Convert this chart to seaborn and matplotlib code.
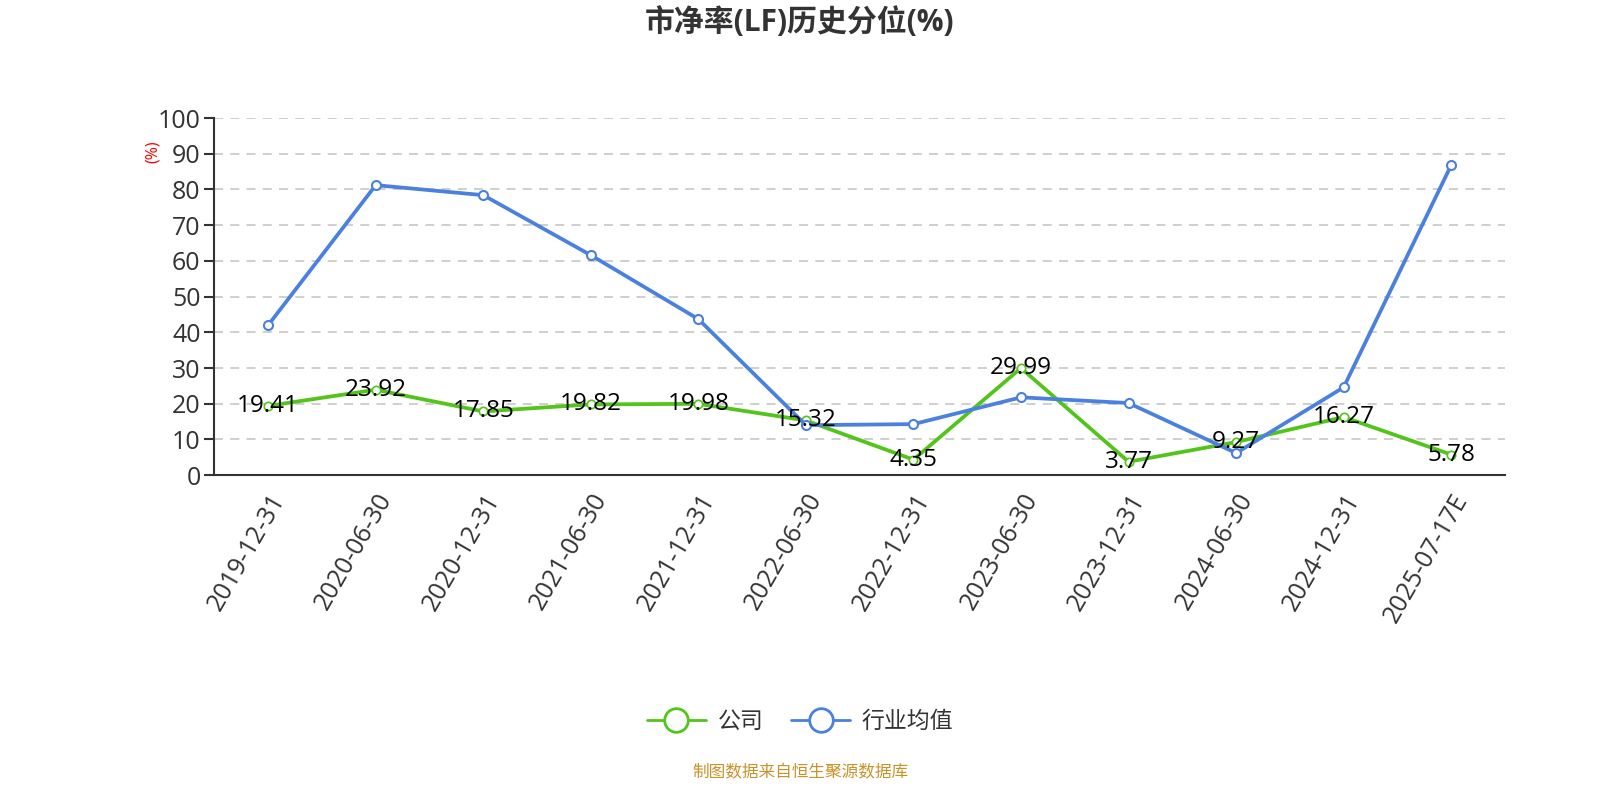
import matplotlib
matplotlib.use("Agg")
import matplotlib.pyplot as plt
from matplotlib.lines import Line2D
import seaborn as sns
import pandas as pd

sns.set_theme(style="white")
plt.rcParams["font.family"] = ["Open Sans", "Noto Sans CJK SC", "DejaVu Sans"]

dates = ["2019-12-31", "2020-06-30", "2020-12-31", "2021-06-30", "2021-12-31",
         "2022-06-30", "2022-12-31", "2023-06-30", "2023-12-31", "2024-06-30",
         "2024-12-31", "2025-07-17E"]
company = [19.41, 23.92, 17.85, 19.82, 19.98, 15.32, 4.35, 29.99, 3.77, 9.27, 16.27, 5.78]
industry = [42.0, 81.2, 78.4, 61.6, 43.7, 14.0, 14.3, 21.8, 20.2, 6.2, 24.6, 86.8]

GREEN = "#52c41a"
BLUE = "#4a80e0"

df = pd.DataFrame({"pos": range(len(dates)), "company": company, "industry": industry})

fig = plt.figure(figsize=(16, 8), dpi=100)
ax = fig.add_axes([0.134, 0.406, 0.8066, 0.4465])

sns.lineplot(data=df, x="pos", y="company", ax=ax, color=GREEN, linewidth=2.7,
             marker="o", markersize=6, markerfacecolor="white", markeredgecolor=GREEN,
             markeredgewidth=1.2, zorder=3)
sns.lineplot(data=df, x="pos", y="industry", ax=ax, color=BLUE, linewidth=2.7,
             marker="o", markersize=6.5, markerfacecolor="white", markeredgecolor=BLUE,
             markeredgewidth=1.5, zorder=4)

for x, v in zip(df["pos"], company):
    ax.text(x, v, f"{v:.2f}", ha="center", va="center", fontsize=17.5, color="black", zorder=5)

ax.set_xlim(-0.5, len(dates) - 0.5)
ax.set_ylim(0, 100)
ax.set_yticks(range(0, 101, 10))
ax.set_yticklabels([str(t) for t in range(0, 101, 10)], fontsize=18, color="#333333")
ax.set_xticks(range(len(dates)))
ax.set_xticklabels(dates, rotation=60, ha="right", rotation_mode="anchor",
                   fontsize=18, color="#333333")
ax.set_xticks([i - 0.5 for i in range(len(dates) + 1)], minor=True)
ax.tick_params(axis="x", which="major", length=0, pad=10)
ax.tick_params(axis="x", which="minor", length=7, width=1.5, color="#333333")
ax.tick_params(axis="y", length=7, width=1.5, color="#333333", pad=3, left=True)
ax.set_xlabel("")
ax.set_ylabel("")

for t in range(10, 101, 10):
    ax.axhline(t, color="#cccccc", linestyle=(0, (5, 4)), linewidth=1.3, zorder=1)

for s in ["top", "right"]:
    ax.spines[s].set_visible(False)
for s in ["left", "bottom"]:
    ax.spines[s].set_color("#333333")
    ax.spines[s].set_linewidth(1.5)

fig.text(0.0956, 0.81, "(%)", rotation=90, color="red", fontsize=11.5, ha="center", va="center")
fig.text(0.5, 0.972, "市净率(LF)历史分位(%)", ha="center", va="center",
         fontsize=21.5, fontweight="bold", color="#333333")

handles = [
    Line2D([0], [0], color=GREEN, linewidth=2, marker="o", markersize=17,
           markerfacecolor="white", markeredgecolor=GREEN, markeredgewidth=2),
    Line2D([0], [0], color=BLUE, linewidth=2, marker="o", markersize=17,
           markerfacecolor="white", markeredgecolor=BLUE, markeredgewidth=2),
]
fig.legend(handles, ["公司", "行业均值"], loc="center", bbox_to_anchor=(0.5, 0.0975),
           ncol=2, frameon=False, fontsize=16.5, handlelength=2.6, columnspacing=1.2,
           handletextpad=0.5, labelcolor="#333333")

fig.text(0.5, 0.034, "制图数据来自恒生聚源数据库", ha="center", va="center",
         fontsize=12, color="#c8922a")

fig.savefig("out.png", dpi=100)
